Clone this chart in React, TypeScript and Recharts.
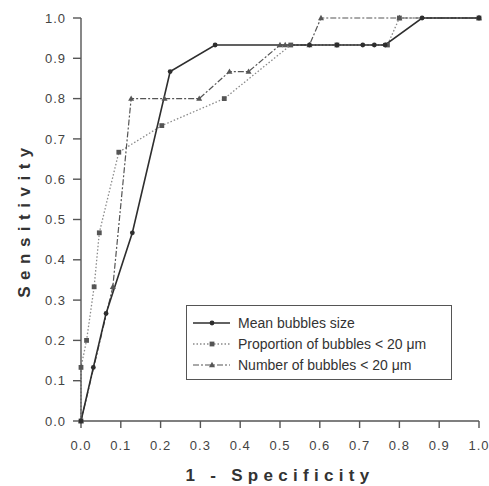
import React from "react";
import { LineChart, Line, XAxis, YAxis } from "recharts";

const meanX = [0, 0.031, 0.063, 0.129, 0.224, 0.337, 0.574, 0.643, 0.708, 0.737, 0.764, 0.857, 1.0];
const meanY = [0, 0.133, 0.267, 0.467, 0.867, 0.933, 0.933, 0.933, 0.933, 0.933, 0.933, 1.0, 1.0];

const propX = [0, 0, 0.014, 0.033, 0.046, 0.095, 0.203, 0.36, 0.527, 0.643, 0.77, 0.8, 1.0];
const propY = [0, 0.133, 0.2, 0.333, 0.467, 0.667, 0.733, 0.8, 0.933, 0.933, 0.933, 1.0, 1.0];

const numX = [0, 0.08, 0.126, 0.21, 0.297, 0.373, 0.421, 0.5, 0.513, 0.574, 0.603, 0.8, 1.0];
const numY = [0, 0.333, 0.8, 0.8, 0.8, 0.867, 0.867, 0.933, 0.933, 0.933, 1.0, 1.0, 1.0];

const ticks = [0, 0.1, 0.2, 0.3, 0.4, 0.5, 0.6, 0.7, 0.8, 0.9, 1.0];

const seriesNames = ["Mean bubbles size", "Proportion of bubbles < 20 \u03bcm", "Number of bubbles < 20 \u03bcm"];

const zip = (xs: number[], ys: number[]) => xs.map((x, i) => ({ x, y: ys[i] }));
const meanData = zip(meanX, meanY);
const propData = zip(propX, propY);
const numData = zip(numX, numY);

const FONT = "'Liberation Sans', Arial, sans-serif";

const CircleDot = (p: any) => (
  <circle key={`c-${p.index}`} cx={p.cx} cy={p.cy} r={2.4} fill="#2e2e2e" />
);
const SquareDot = (p: any) => (
  <rect key={`s-${p.index}`} x={p.cx - 2.4} y={p.cy - 2.4} width={4.8} height={4.8} fill="#555" />
);
const TriDot = (p: any) => (
  <polygon
    key={`t-${p.index}`}
    points={`${p.cx},${p.cy - 3.2} ${p.cx - 3},${p.cy + 2.2} ${p.cx + 3},${p.cy + 2.2}`}
    fill="#555"
  />
);

const LegendBox = () => {
  const rows = [
    { name: seriesNames[0], stroke: "#2e2e2e", dash: undefined, w: 1.6, mk: "c" },
    { name: seriesNames[1], stroke: "#8a8a8a", dash: "1.5 2", w: 1.3, mk: "s" },
    { name: seriesNames[2], stroke: "#555", dash: "6 2 2 2", w: 1.2, mk: "t" },
  ];
  return (
    <div
      style={{
        position: "absolute",
        left: 186,
        top: 305,
        border: "1.2px solid #555",
        width: 266,
        height: 75,
        boxSizing: "border-box",
        background: "#fff",
        paddingTop: 6,
        fontFamily: FONT,
      }}
    >
      {rows.map((r, i) => (
        <div key={i} style={{ display: "flex", alignItems: "center", height: 21 }}>
          <svg width={50} height={10} style={{ marginLeft: 6 }}>
            <line x1={0} y1={5} x2={37} y2={5} stroke={r.stroke} strokeWidth={r.w} strokeDasharray={r.dash} />
            {r.mk === "c" && <circle cx={19} cy={5} r={2.4} fill="#2e2e2e" />}
            {r.mk === "s" && <rect x={16.6} y={2.6} width={4.8} height={4.8} fill="#555" />}
            {r.mk === "t" && <polygon points="19,1.8 16,7.2 22,7.2" fill="#555" />}
          </svg>
          <span style={{ fontSize: 14, color: "#333", marginLeft: -5 }}>{r.name}</span>
        </div>
      ))}
    </div>
  );
};

export default function App() {
  return (
    <div style={{ position: "absolute", left: 0, top: 0, width: 489, height: 486, background: "#fff" }}>
      <LineChart width={489} height={486} margin={{ top: 18, right: 10, bottom: 0, left: 0 }}>
        <XAxis
          type="number"
          dataKey="x"
          domain={[0, 1]}
          ticks={ticks}
          tickFormatter={(v: number) => v.toFixed(1)}
          height={65}
          tickSize={7}
          tickMargin={13}
          stroke="#555"
          strokeWidth={1.4}
          tick={{ fontSize: 13, fill: "#444", fontFamily: FONT, letterSpacing: 1 }}
          allowDuplicatedCategory={false}
          label={{
            value: "1 - Specificity",
            position: "insideBottom",
            offset: 5,
            style: { fontSize: 17, fontWeight: "bold", fill: "#333", fontFamily: FONT, letterSpacing: 5.3 },
          }}
        />
        <YAxis
          type="number"
          dataKey="y"
          domain={[0, 1]}
          ticks={ticks}
          tickFormatter={(v: number) => v.toFixed(1)}
          width={81}
          tickSize={8}
          tickMargin={7}
          stroke="#555"
          strokeWidth={1.4}
          tick={{ fontSize: 13, fill: "#444", fontFamily: FONT, letterSpacing: 1 }}
          label={{
            value: "Sensitivity",
            angle: -90,
            position: "insideLeft",
            offset: 24,
            style: { fontSize: 17, fontWeight: "bold", fill: "#333", fontFamily: FONT, letterSpacing: 6.5, textAnchor: "middle" },
          }}
        />
        <Line
          data={propData}
          dataKey="y"
          name={seriesNames[1]}
          type="linear"
          stroke="#8a8a8a"
          strokeWidth={1.3}
          strokeDasharray="1.5 2"
          dot={SquareDot}
          activeDot={false}
          isAnimationActive={false}
        />
        <Line
          data={numData}
          dataKey="y"
          name={seriesNames[2]}
          type="linear"
          stroke="#555"
          strokeWidth={1.2}
          strokeDasharray="6 2 2 2"
          dot={TriDot}
          activeDot={false}
          isAnimationActive={false}
        />
        <Line
          data={meanData}
          dataKey="y"
          name={seriesNames[0]}
          type="linear"
          stroke="#2e2e2e"
          strokeWidth={1.6}
          dot={CircleDot}
          activeDot={false}
          isAnimationActive={false}
        />
      </LineChart>
      <LegendBox />
    </div>
  );
}
